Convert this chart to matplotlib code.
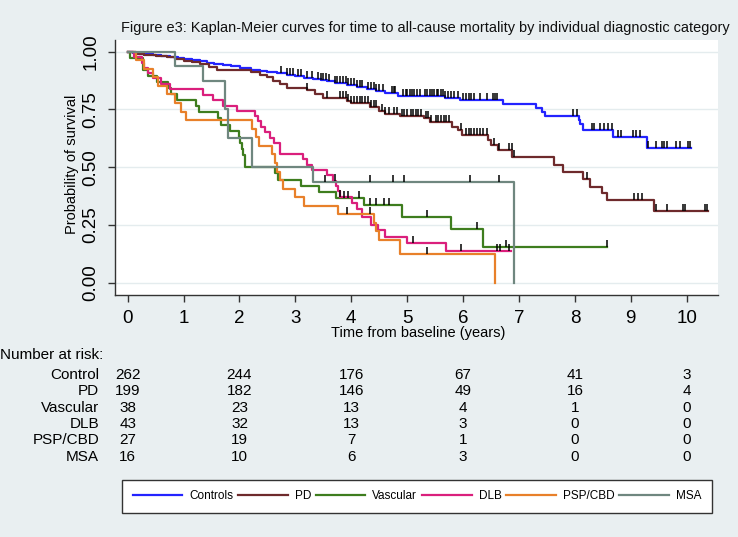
"""Kaplan-Meier curves for all-cause mortality by diagnostic category (Stata style)."""

import matplotlib

matplotlib.use("Agg")
import matplotlib.pyplot as plt
from matplotlib.markers import TICKUP
import numpy as np

plt.rcParams["font.family"] = ["Liberation Sans", "DejaVu Sans"]

BG = "#E9EFF1"

groups = ["Controls", "PD", "Vascular", "DLB", "PSP/CBD", "MSA"]
risk_labels = ["Control", "PD", "Vascular", "DLB", "PSP/CBD", "MSA"]
colors = ["#2323FF", "#6E2A2C", "#3E7D1E", "#DA1F7C", "#E8802A", "#6F877F"]

# step curves: event times and survival after each step, plus last follow-up time
ctrl_t = [0, 0.1, 0.2, 0.3, 0.46, 0.6, 0.75, 0.9, 1.0, 1.15, 1.3, 1.41, 1.55, 1.7, 1.85,
          2.01, 2.2, 2.37, 2.5, 2.67, 2.85, 3.0, 3.15, 3.32, 3.45, 3.56, 3.7, 3.92, 4.1,
          4.28, 4.45, 4.6, 4.84, 5.68, 5.95, 6.72, 7.3, 7.42, 7.47, 8.07, 8.1, 8.14, 8.68, 9.29]
ctrl_s = [1, 0.996, 0.992, 0.989, 0.985, 0.981, 0.977, 0.973, 0.97, 0.966, 0.958, 0.952, 0.948,
          0.944, 0.937, 0.93, 0.922, 0.916, 0.912, 0.909, 0.901, 0.894, 0.887, 0.88, 0.876,
          0.873, 0.865, 0.854, 0.846, 0.839, 0.832, 0.822, 0.81, 0.80, 0.79, 0.773, 0.755,
          0.738, 0.72, 0.705, 0.686, 0.661, 0.632, 0.582]
ctrl_end = 10.07

pd_t = [0, 0.15, 0.3, 0.5, 0.7, 0.85, 1.0, 1.15, 1.3, 1.45, 1.6, 2.2, 2.37, 2.5, 2.6, 2.72,
        2.85, 3.2, 3.35, 3.5, 3.92, 4.0, 4.34, 4.5, 4.6, 4.87, 5.3, 5.4, 5.8, 5.9, 5.98, 6.45,
        6.5, 6.62, 6.88, 7.63, 7.79, 8.15, 8.27, 8.48, 8.57, 9.42]
pd_s = [1, 0.99, 0.985, 0.98, 0.975, 0.97, 0.96, 0.955, 0.945, 0.935, 0.92, 0.91, 0.9, 0.89,
        0.875, 0.86, 0.845, 0.835, 0.818, 0.80, 0.785, 0.776, 0.76, 0.745, 0.732, 0.72, 0.712,
        0.697, 0.675, 0.661, 0.639, 0.618, 0.596, 0.574, 0.543, 0.51, 0.48, 0.447, 0.416,
        0.387, 0.358, 0.31]
pd_end = 10.38

vasc_t = [0, 0.05, 0.28, 0.37, 0.52, 0.73, 0.78, 0.88, 1.23, 1.27, 1.62, 1.67, 1.83, 1.99,
          2.01, 2.04, 2.07, 2.1, 2.63, 2.68, 3.1, 3.42, 3.72, 4.22, 4.9, 5.79, 6.35]
vasc_s = [1, 0.974, 0.921, 0.895, 0.868, 0.842, 0.816, 0.789, 0.763, 0.737, 0.711, 0.684,
          0.658, 0.632, 0.605, 0.579, 0.553, 0.5, 0.473, 0.446, 0.419, 0.392, 0.365, 0.336,
          0.286, 0.231, 0.153]
vasc_end = 8.58

dlb_t = [0, 0.12, 0.25, 0.3, 0.37, 0.45, 0.6, 0.76, 1.35, 1.53, 1.71, 1.95, 2.28, 2.33, 2.38,
         2.45, 2.55, 2.62, 2.72, 3.14, 3.2, 3.29, 3.56, 3.68, 3.72, 3.76, 3.8, 4.02, 4.1, 4.2,
         4.36, 4.47, 4.6, 4.99, 5.69]
dlb_s = [1, 0.977, 0.953, 0.93, 0.907, 0.884, 0.86, 0.837, 0.814, 0.791, 0.767, 0.744, 0.721,
         0.698, 0.674, 0.651, 0.628, 0.605, 0.557, 0.535, 0.51, 0.488, 0.465, 0.442, 0.419,
         0.395, 0.372, 0.345, 0.32, 0.286, 0.25, 0.228, 0.2, 0.173, 0.137]
dlb_end = 6.85

psp_t = [0, 0.15, 0.3, 0.45, 0.55, 0.7, 0.85, 0.95, 1.05, 2.22, 2.3, 2.35, 2.58, 2.63, 2.67,
         2.72, 2.78, 3.0, 3.15, 3.76, 4.4, 4.45, 4.5, 4.88, 6.57]
psp_s = [1, 0.963, 0.926, 0.889, 0.852, 0.815, 0.778, 0.741, 0.704, 0.667, 0.63, 0.593, 0.556,
         0.519, 0.481, 0.444, 0.407, 0.37, 0.333, 0.297, 0.259, 0.222, 0.185, 0.123, 0.0]
psp_end = 6.57

msa_t = [0, 0.85, 1.35, 1.74, 1.80, 2.22, 3.32, 6.91]
msa_s = [1, 0.9375, 0.875, 0.75, 0.625, 0.5, 0.4375, 0.0]
msa_end = 6.91

# censored observations
ctrl_cens = [2.75, 2.85, 2.9, 2.95, 3.05, 3.1, 3.2, 3.3, 3.4, 3.45, 3.5, 3.55, 3.6, 3.7, 3.75,
             3.8, 3.85, 3.9, 3.95, 4.0, 4.05, 4.1, 4.15, 4.2, 4.3, 4.35, 4.4, 4.45, 4.5, 4.57,
             4.73, 4.76, 4.79, 4.93, 4.97, 5.0, 5.05, 5.09, 5.13, 5.17, 5.23, 5.32, 5.36, 5.4,
             5.44, 5.48, 5.53, 5.55, 5.6, 5.64, 5.68, 5.73, 5.78, 5.83, 5.91, 6.0, 6.05, 6.1,
             6.15, 6.2, 6.3, 6.43, 6.53, 6.57, 6.6, 7.97, 8.04, 8.3, 8.35, 8.45, 8.52, 8.6, 8.66,
             8.77, 8.83, 9.04, 9.1, 9.16, 9.3, 9.45, 9.55, 9.6, 9.65, 9.8, 9.88, 10.03, 10.06]
pd_cens = [3.2, 3.56, 3.8, 3.85, 3.9, 3.95, 4.0, 4.05, 4.1, 4.15, 4.2, 4.25, 4.3, 4.35, 4.4,
           4.45, 4.55, 4.6, 4.67, 4.76, 4.82, 4.91, 4.95, 5.0, 5.06, 5.1, 5.15, 5.2, 5.24, 5.33,
           5.38, 5.42, 5.51, 5.55, 5.6, 5.65, 5.7, 5.75, 5.96, 6.05, 6.1, 6.15, 6.2, 6.25, 6.3,
           6.35, 6.43, 6.55, 6.64, 6.82, 6.87, 6.91, 8.22, 9.05, 9.12, 9.2, 9.45, 9.64, 9.94,
           9.97, 10.32, 10.36]
vasc_cens = [3.87, 3.95, 4.13, 4.33, 4.45, 4.59, 4.67, 5.36, 6.24, 6.77, 8.58]
dlb_cens = [3.7, 3.8, 5.1, 5.97, 6.6, 6.66, 6.83]
psp_cens = [3.92, 4.34, 5.36]
msa_cens = [3.53, 4.33, 4.74, 4.95, 6.12, 6.65]

risk_times = [0, 2, 4, 6, 8, 10]
risk_ctrl = [262, 244, 176, 67, 41, 3]
risk_pd = [199, 182, 146, 49, 16, 4]
risk_vasc = [38, 23, 13, 4, 1, 0]
risk_dlb = [43, 32, 13, 3, 0, 0]
risk_psp = [27, 19, 7, 1, 0, 0]
risk_msa = [16, 10, 6, 3, 0, 0]

curves = [
    (ctrl_t, ctrl_s, ctrl_end, ctrl_cens),
    (pd_t, pd_s, pd_end, pd_cens),
    (vasc_t, vasc_s, vasc_end, vasc_cens),
    (dlb_t, dlb_s, dlb_end, dlb_cens),
    (psp_t, psp_s, psp_end, psp_cens),
    (msa_t, msa_s, msa_end, msa_cens),
]
risk_rows = [risk_ctrl, risk_pd, risk_vasc, risk_dlb, risk_psp, risk_msa]

W, H = 738, 537
fig = plt.figure(figsize=(W / 100, H / 100), dpi=100, facecolor=BG)

ax = fig.add_axes([115 / W, 1 - 295 / H, 603 / W, 255 / H])
ax.set_facecolor("white")
ax.set_xlim(-0.227, 10.56)
ax.set_ylim(-0.053, 1.0506)

handles = []
for (t, s, end, cens), color, name in zip(curves, colors, groups):
    xs = np.append(t, end)
    ys = np.append(s, s[-1])
    (line,) = ax.step(xs, ys, where="post", color=color, lw=1.6, label=name, zorder=3)
    handles.append(line)
    cens = np.asarray(cens)
    idx = np.searchsorted(t, cens, side="right") - 1
    # censoring ticks sit on the curve and point upwards, as in Stata
    ax.plot(cens, np.asarray(s)[idx], ls="none", marker=TICKUP, ms=5, mew=1.1,
            color="black", zorder=4)

ax.set_yticks([0, 0.25, 0.5, 0.75, 1.0])
ax.set_yticklabels(["0.00", "0.25", "0.50", "0.75", "1.00"], rotation=90, va="center")
ax.set_xticks(range(0, 11))
ax.grid(axis="y", color="#E4ECEE", lw=1.0, zorder=0)
ax.tick_params(axis="both", direction="out", length=5, width=1, color="#333333",
               labelsize=13.5)
ax.tick_params(axis="x", pad=6)
ax.tick_params(axis="y", pad=6)
for side in ["top", "right"]:
    ax.spines[side].set_visible(False)
for side in ["left", "bottom"]:
    ax.spines[side].set_color("#333333")
    ax.spines[side].set_linewidth(1.0)

fig.text(121 / W, 1 - 28 / H,
         "Figure e3: Kaplan-Meier curves for time to all-cause mortality by individual diagnostic category",
         ha="left", va="center", fontsize=10.45, color="#111111")
fig.text(72 / W, 1 - 164 / H, "Probability of survival", rotation=90,
         ha="center", va="center", fontsize=10.5)
fig.text(418 / W, 1 - 333 / H, "Time from baseline (years)", ha="center", va="center",
         fontsize=10.5)

# number at risk table, columns aligned with the x axis
fig.text(0, 1 - 355 / H, "Number at risk:", ha="left", va="center", fontsize=11)
row_y = [375, 391, 408, 424, 440, 457]
for label, counts, py in zip(risk_labels, risk_rows, row_y):
    fig.text(99 / W, 1 - py / H, label, ha="right", va="center", fontsize=11)
    for tt, n in zip(risk_times, counts):
        xfig = fig.transFigure.inverted().transform(ax.transData.transform((tt, 0)))[0]
        fig.text(xfig, 1 - py / H, str(n), ha="center", va="center", fontsize=11)

leg = fig.legend(handles, groups, loc="lower left",
                 bbox_to_anchor=(122 / W, 1 - 513 / H, 590 / W, 33 / H),
                 mode="expand", ncol=6, frameon=True, fancybox=False, fontsize=8.5,
                 handlelength=4.2, handletextpad=0.6, columnspacing=0.5,
                 borderaxespad=0, borderpad=0.9)
leg.get_frame().set_edgecolor("#333333")
leg.get_frame().set_linewidth(1.0)
leg.get_frame().set_facecolor("white")
leg.get_frame().set_alpha(1)

fig.savefig("out.png", dpi=100, facecolor=BG)
